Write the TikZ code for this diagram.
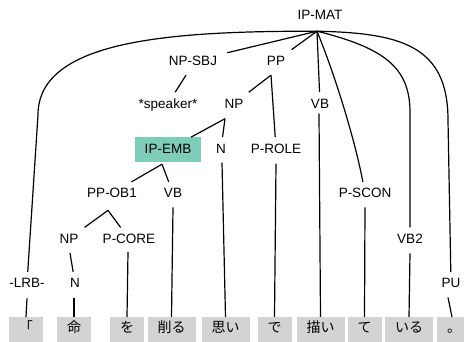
\documentclass[tikz,border=0pt]{standalone}
\usepackage{fontspec}
\setmainfont{Liberation Sans}
\newfontfamily\jpfont{Noto Sans CJK JP}
\definecolor{embfill}{RGB}{125,205,185}
\definecolor{wordfill}{RGB}{211,211,211}
\begin{document}
\begin{tikzpicture}[x=1pt,y=-1pt,
  lab/.style={font=\fontsize{13.5}{16}\selectfont, inner xsep=10pt, inner ysep=6.2pt,
              text height=9.7pt, text depth=0pt, anchor=base},
  emb/.style={lab, fill=embfill, text depth=2.4pt, inner ysep=6.3pt},
  word/.style={fill=wordfill, font=\jpfont\fontsize{14}{16}\selectfont,
               minimum height=26pt, text height=10.2pt, text depth=5pt,
               inner sep=0pt, anchor=north},
  w1/.style={word, minimum width=34pt},
  w2/.style={word, minimum width=48pt},
  edge/.style={line width=1.2pt}]
\useasboundingbox (0,0) rectangle (464,342);
\fill[white] (0,0) rectangle (464,342);

% labels
\node[lab] (ipmat)   at (320,19.8)  {IP-MAT};
\node[lab] (npsbj)   at (193,65.8)  {NP-SBJ};
\node[lab] (pp)      at (276,65.8)  {PP};
\node[lab] (speaker) at (168,108.3) {*speaker*};
\node[lab] (npa)     at (234,108.3) {NP};
\node[lab] (vba)     at (320,108.3) {VB};
\node[emb] (ipemb)   at (168,153.3) {IP-EMB};
\node[lab] (na)      at (221,153.3) {N};
\node[lab] (prole)   at (276,153.3) {P-ROLE};
\node[lab] (ppob)    at (112,198)   {PP-OB1};
\node[lab] (vbb)     at (173,198)   {VB};
\node[lab] (pscon)   at (365,198)   {P-SCON};
\node[lab] (npb)     at (69,243.5)  {NP};
\node[lab] (pcore)   at (129,243.5) {P-CORE};
\node[lab] (vbtwo)   at (410,243.5) {VB2};
\node[lab] (lrb)     at (27,288)    {-LRB-};
\node[lab] (nb)      at (75,288)    {N};
\node[lab] (pu)      at (451,288)   {PU};

% words
\node[w1] (wa) at (26,317)    {「};
\node[w1] (wb) at (74,317)    {命};
\node[w1] (wc) at (127,317)   {を};
\node[w2] (wd) at (171.5,317) {削る};
\node[w2] (we) at (225.5,317) {思い};
\node[w1] (wf) at (274.5,317) {で};
\node[w2] (wg) at (320.5,317) {描い};
\node[w1] (wh) at (364.5,317) {て};
\node[w2] (wi) at (409,317)   {いる};
\node[w1] (wj) at (454,317)   {。};

% parent attachment points
\coordinate (ipmat-b) at ([shift={(-3,5)}]ipmat.south);
\coordinate (npsbj-b) at ([shift={(-7,3)}]npsbj.south);
\coordinate (pp-b)    at ([shift={(-5,3)}]pp.south);
\coordinate (npa-b)   at ([shift={(-9,4)}]npa.south);
\coordinate (vba-b)   at ([shift={(-1,-1)}]vba.south);
\coordinate (ipemb-b) at ([shift={(-6,2)}]ipemb.south);
\coordinate (na-b)    at ([shift={(1,3)}]na.south);
\coordinate (prole-b) at ([shift={(0,4)}]prole.south);
\coordinate (ppob-b)  at ([shift={(-4,6)}]ppob.south);
\coordinate (vbb-b)   at ([shift={(0,3)}]vbb.south);
\coordinate (pscon-b) at ([shift={(0,3)}]pscon.south);
\coordinate (npb-b)   at ([shift={(1,3)}]npb.south);
\coordinate (pcore-b) at ([shift={(-1,2)}]pcore.south);
\coordinate (vbtwo-b) at ([shift={(0,3.5)}]vbtwo.south);
\coordinate (lrb-b)   at ([shift={(0,4)}]lrb.south);
\coordinate (nb-b)    at ([shift={(-1,4)}]nb.south);
\coordinate (pu-b)    at ([shift={(-3,3)}]pu.south);

% edges from IP-MAT
\draw[edge] (ipmat-b) -- (npsbj);
\draw[edge] (ipmat-b) -- (pp);
\draw[edge] (ipmat-b) -- (vba);
\draw[edge] (ipmat-b) .. controls (335,75) and (355,140) .. (pscon);
\draw[edge] (ipmat-b) .. controls (385,48) and (409,68) .. (410,110) -- (vbtwo);
\draw[edge] (ipmat-b) .. controls (400,33) and (448,45) .. (448,120) -- (pu);
\draw[edge] (ipmat-b) .. controls (170,31) and (38,40) .. (38,115) -- (lrb);

% inner edges
\draw[edge] (npsbj-b) -- (speaker);
\draw[edge] (pp-b) -- (npa);
\draw[edge] (pp-b) -- (prole);
\draw[edge] (npa-b) -- (ipemb);
\draw[edge] (npa-b) -- (na);
\draw[edge] (ipemb-b) -- (ppob);
\draw[edge] (ipemb-b) -- (vbb);
\draw[edge] (ppob-b) -- (npb);
\draw[edge] (ppob-b) -- (pcore);
\draw[edge] (npb-b) -- (nb);

% edges to words
\draw[edge] (lrb-b) -- (wa.north);
\draw[edge] (nb-b) -- (wb.north);
\draw[edge] (pcore-b) -- (wc.north);
\draw[edge] (vbb-b) -- (wd.north);
\draw[edge] (na-b) -- (we.north);
\draw[edge] (prole-b) -- (wf.north);
\draw[edge] (vba-b) -- (wg.north);
\draw[edge] (pscon-b) -- (wh.north);
\draw[edge] (vbtwo-b) -- (wi.north);
\draw[edge] (pu-b) -- ([xshift=-2pt]wj.north);
\end{tikzpicture}
\end{document}
